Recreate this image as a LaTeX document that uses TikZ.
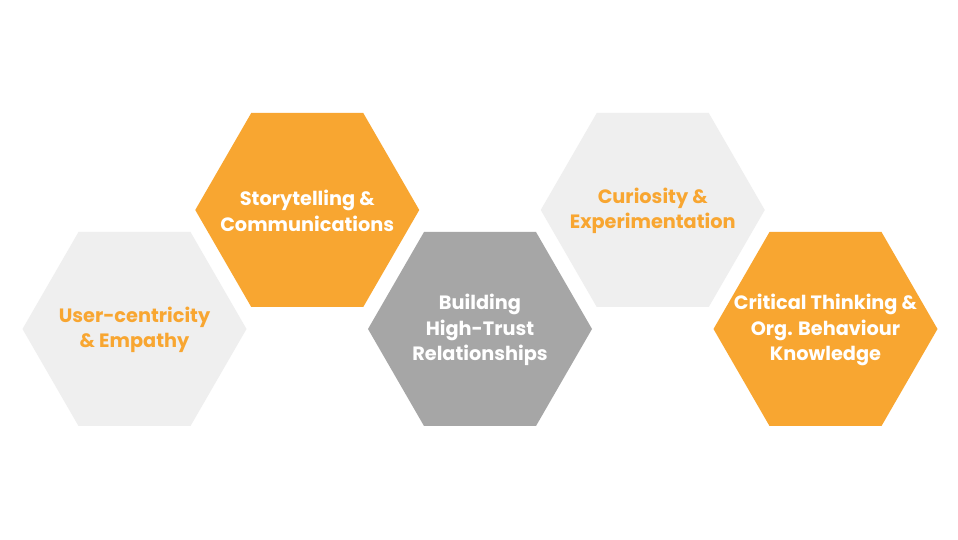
\documentclass[tikz,border=0pt]{standalone}
\usepackage{fontspec}
\setmainfont{Poppins}
\definecolor{hexorange}{HTML}{F8A631}
\definecolor{hexlight}{HTML}{EFEFEF}
\definecolor{hexdark}{HTML}{A6A6A6}
\begin{document}
\begin{tikzpicture}[x=1pt,y=1pt,
  hextext/.style={inner sep=0pt, align=center,
    font=\fontsize{19.3}{25.5}\selectfont\bfseries},
  hexshape/.style={draw=none}]
\useasboundingbox[fill=white] (0,0) rectangle (958,540);
\foreach \cx/\cy/\col in {134.5/211/hexlight, 307.25/330/hexorange, 480/211/hexdark,
    652.75/330/hexlight, 825.5/211/hexorange}{
  \fill[\col] (\cx+112,\cy) -- ++(-56,97) -- ++(-112,0) -- ++(-56,-97)
    -- ++(56,-97) -- ++(112,0) -- cycle;
}
\node[hextext, text=hexorange] (h1) at (134.5,210) {User-centricity\\\& Empathy};
\node[hextext, text=white] (h2) at (307.25,329) {Storytelling \&\\Communications};
\node[hextext, text=white] (h3) at (480,210) {Building\\High-Trust\\Relationships};
\node[hextext, text=hexorange] (h4) at (652.75,329) {Curiosity \&\\Experimentation};
\node[hextext, text=white] (h5) at (825.5,210) {Critical Thinking \&\\Org. Behaviour\\Knowledge};
\end{tikzpicture}
\end{document}
